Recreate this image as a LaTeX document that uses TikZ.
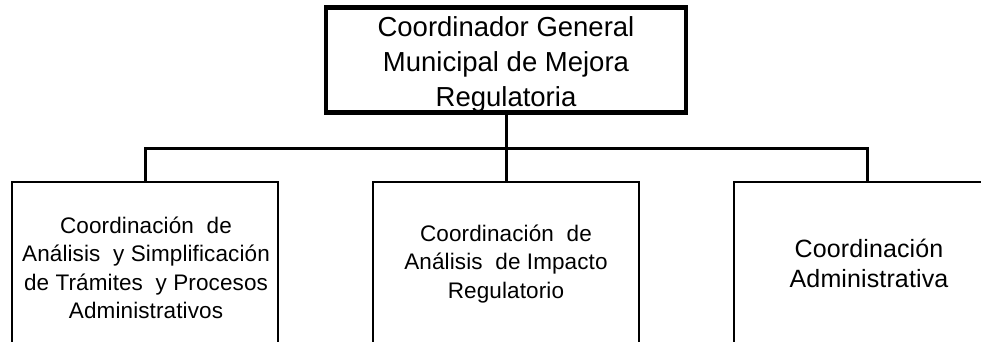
\documentclass[tikz,border=0pt]{standalone}
\usepackage{fontspec}
\setmainfont{Liberation Sans}
\begin{document}
\begin{tikzpicture}[x=1pt,y=-1pt,
  topbox/.style={draw=black,line width=4.5pt,minimum width=360pt,minimum height=105pt,inner sep=0pt},
  subbox/.style={draw=black,line width=2pt,minimum width=266pt,minimum height=218pt,inner sep=0pt},
  toptext/.style={align=center,font=\fontsize{27.5}{35}\selectfont},
  subtext/.style={align=center,font=\addfontfeatures{LetterSpace=0.5}\fontsize{22.5}{28.5}\selectfont},
  bigtext/.style={align=center,font=\addfontfeatures{LetterSpace=0.5}\fontsize{25}{30}\selectfont},
  conn/.style={draw=black,line width=3pt}]
\useasboundingbox (0,0) rectangle (981,342);
\clip (0,0) rectangle (981,342);
\node[topbox] (top) at (506,60) {};
\node[toptext] (toptxt) at (506,64) {Coordinador General\\Municipal de Mejora\\Regulatoria};
\node[subbox] (left) at (145,291) {};
\node[subbox] (mid) at (506,291) {};
\node[subbox] (right) at (867,291) {};
\node[subtext] (lefttxt) at (146,268) {Coordinación \ de\\Análisis \ y Simplificación\\de Trámites \ y Procesos\\Administrativos};
\node[subtext] (midtxt) at (506,264) {Coordinación \ de\\Análisis \ de Impacto\\Regulatorio};
\node[bigtext] (righttxt) at (869,263) {Coordinación\\Administrativa};
\coordinate (j) at (506,148);
\draw[conn] (top.south) -- (mid.north);
\draw[conn] (left.north) |- (j) -| (right.north);
\end{tikzpicture}
\end{document}
